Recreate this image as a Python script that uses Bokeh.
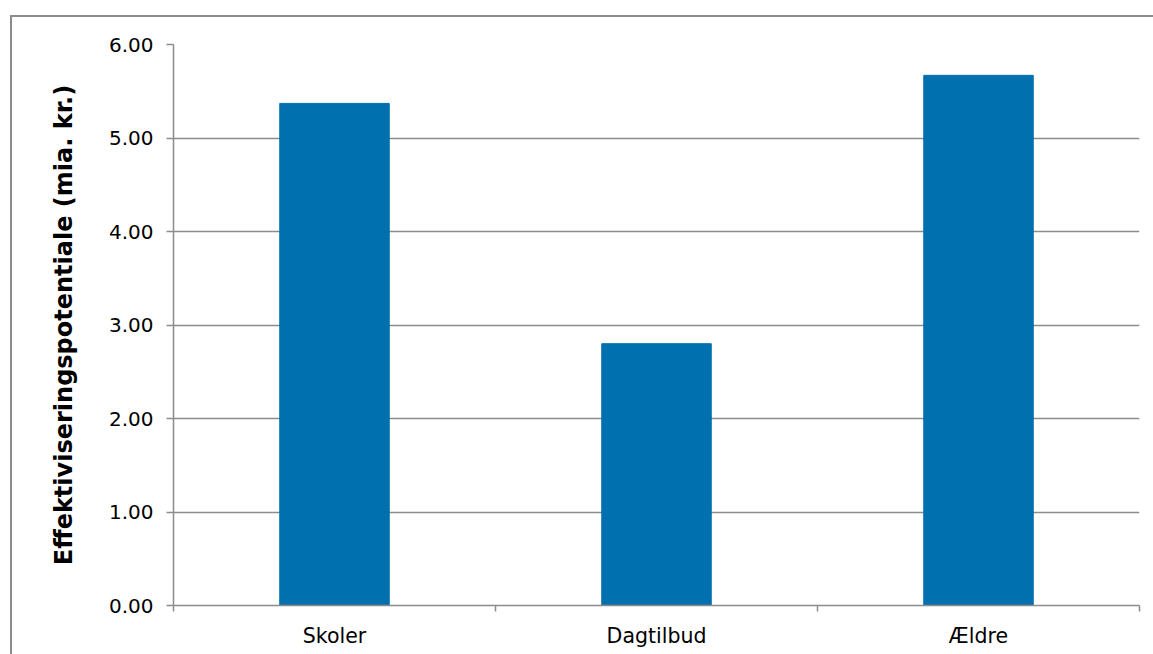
from bokeh.plotting import figure
from bokeh.models import FixedTicker, CustomJSTickFormatter, Range1d
from bokeh.embed import file_html
from bokeh.resources import INLINE

categories = ["Skoler", "Dagtilbud", "Ældre"]
values = [5.37, 2.80, 5.67]
y_ticks = [0, 1, 2, 3, 4, 5, 6]

# category centres and boundaries on a numeric axis
centers = [i + 0.5 for i in range(len(categories))]
bounds = list(range(len(categories) + 1))

GRAY = "#8c8c8c"
FONT = "DejaVu Sans"

p = figure(x_range=Range1d(0, len(categories)), y_range=Range1d(0, 6),
           width=1143, height=639, output_backend="svg", toolbar_location=None,
           min_border_left=161, min_border_right=18, min_border_top=27, min_border_bottom=53,
           outline_line_color=None,
           styles={"margin-left": "10px", "margin-top": "15px",
                   "border-left": "2px solid #8c8c8c", "border-top": "2px solid #8c8c8c",
                   "box-sizing": "content-box"})

p.vbar(x=centers, top=values, width=0.34, color="#0070ae")

xa = p.xaxis[0]
xa.ticker = FixedTicker(ticks=centers, minor_ticks=bounds)
xa.major_label_overrides = {c: name for c, name in zip(centers, categories)}
xa.axis_line_color = GRAY
xa.axis_line_width = 1.5
xa.major_tick_line_color = None
xa.major_tick_out = 0
xa.major_tick_in = 0
xa.minor_tick_line_color = GRAY
xa.minor_tick_line_width = 1.5
xa.minor_tick_out = 6
xa.minor_tick_in = 0
xa.major_label_text_font = FONT
xa.major_label_text_font_size = "20.5px"
xa.major_label_text_color = "#000000"
xa.major_label_standoff = 12

p.yaxis.ticker = FixedTicker(ticks=y_ticks)
p.yaxis.formatter = CustomJSTickFormatter(code="return tick.toFixed(2);")
p.ygrid.grid_line_color = GRAY
p.ygrid.grid_line_width = 1.5
p.xgrid.grid_line_color = None

ax = p.yaxis[0]
ax.axis_line_color = GRAY
ax.axis_line_width = 1.5
ax.major_tick_line_color = GRAY
ax.major_tick_line_width = 1.5
ax.minor_tick_line_color = None
ax.major_label_text_font = FONT
ax.major_label_text_font_size = "20px"
ax.major_label_text_color = "#000000"
ax.major_tick_out = 7
ax.major_tick_in = 0
ax.major_label_standoff = 13

ax.axis_label = "Effektiviseringspotentiale (mia. kr.)"
ax.axis_label_text_font = FONT
ax.axis_label_text_font_style = "bold"
ax.axis_label_text_font_size = "24px"
ax.axis_label_text_color = "#000000"
ax.axis_label_standoff = 28

open("out.html", "w").write(file_html(p, INLINE))
